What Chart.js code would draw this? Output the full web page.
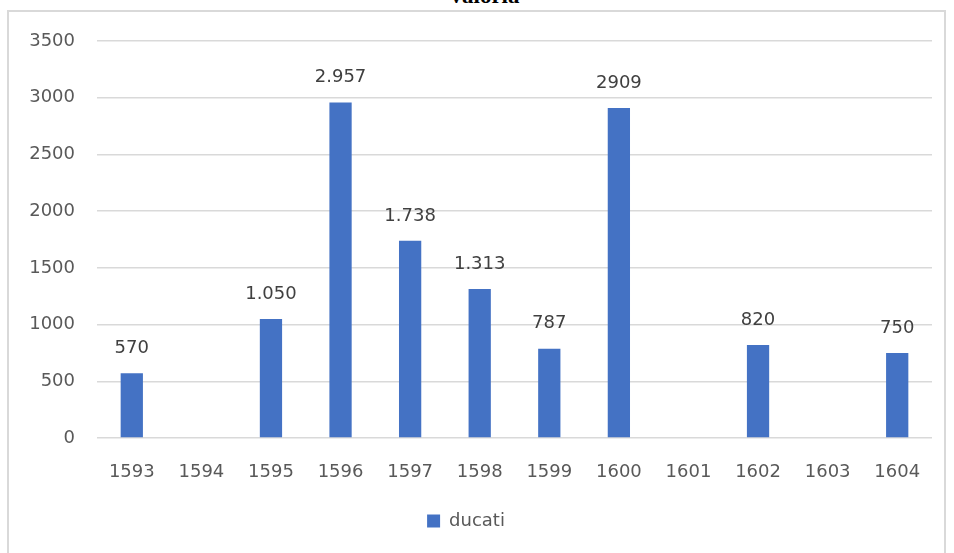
<!DOCTYPE html>
<html>
<head>
<meta charset="utf-8">
<script src="https://cdn.jsdelivr.net/npm/chart.js@4/dist/chart.umd.min.js"></script>
<style>
  html, body { margin: 0; padding: 0; background: #fff; overflow: hidden; }
  #wrap { position: relative; width: 954px; height: 553px; }
  #frame { position: absolute; left: 7px; top: 10px; width: 939px; height: 560px; border: 2px solid #d9d9d9; box-sizing: border-box; }
  #title { position: absolute; left: 0; width: 970px; top: -17px; text-align: center;
           font: bold 23px "Liberation Serif", serif; color: #000; }
  canvas { position: absolute; left: 0; top: 0; }
</style>
</head>
<body>
<div id="wrap">
  <div id="frame"></div>
  <div id="title">valoria</div>
  <canvas id="barChart" width="954" height="553"></canvas>
</div>
<script>
// anni e valori in ducati
const years = ['1593', '1594', '1595', '1596', '1597', '1598', '1599', '1600', '1601', '1602', '1603', '1604'];
const ducati = [570, null, 1050, 2957, 1738, 1313, 787, 2909, null, 820, null, 750];
const valueLabels = ['570', '', '1.050', '2.957', '1.738', '1.313', '787', '2909', '', '820', '', '750'];
const yTicks = [0, 500, 1000, 1500, 2000, 2500, 3000, 3500];

const FONT = '"DejaVu Sans", sans-serif';

// etichette sopra le barre
const barLabels = {
  id: 'barLabels',
  afterDatasetsDraw(chart) {
    const ctx = chart.ctx;
    const meta = chart.getDatasetMeta(0);
    ctx.save();
    ctx.font = '18px ' + FONT;
    ctx.fillStyle = '#404040';
    ctx.textAlign = 'center';
    ctx.textBaseline = 'bottom';
    meta.data.forEach((bar, i) => {
      if (ducati[i] == null) return;
      ctx.fillText(valueLabels[i], bar.x, bar.y - 16);
    });
    ctx.restore();
  }
};

document.addEventListener('DOMContentLoaded', () => {
  new Chart(document.getElementById('barChart'), {
    type: 'bar',
    data: {
      labels: years,
      datasets: [{
        label: 'ducati',
        data: ducati,
        backgroundColor: '#4472c4',
        categoryPercentage: 1,
        barPercentage: 0.32
      }]
    },
    options: {
      responsive: false,
      animation: false,
      layout: { padding: { top: 41, right: 22, bottom: 13, left: 0 } },
      plugins: {
        legend: {
          position: 'bottom',
          labels: {
            font: { family: FONT, size: 18 },
            color: '#595959',
            boxWidth: 13,
            boxHeight: 13,
            padding: 10
          }
        },
        tooltip: { enabled: false }
      },
      scales: {
        x: {
          grid: { display: false },
          border: { display: false },
          ticks: { font: { family: FONT, size: 18 }, color: '#595959', padding: 16 },
          afterFit: s => { s.height = 64; }
        },
        y: {
          min: 0,
          max: 3500,
          afterBuildTicks: s => { s.ticks = yTicks.map(v => ({ value: v })); },
          grid: { color: '#d9d9d9', lineWidth: 1.5, drawTicks: false },
          border: { display: false },
          ticks: {
            font: { family: FONT, size: 18 },
            color: '#595959',
            padding: 22,
            callback: v => String(v)
          },
          afterFit: s => { s.width = 97; }
        }
      }
    },
    plugins: [barLabels]
  });
});
</script>
</body>
</html>
